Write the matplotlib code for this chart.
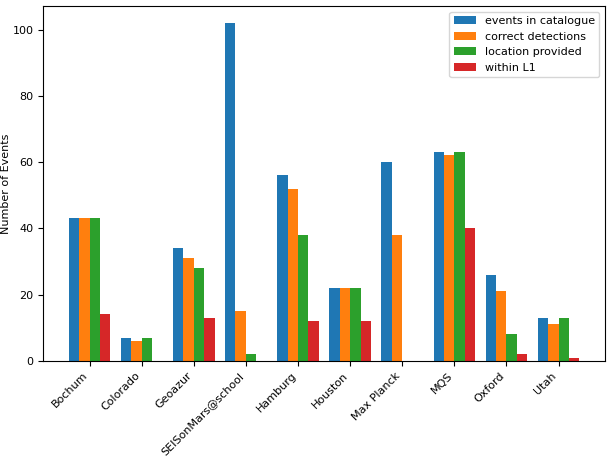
import numpy as np
import matplotlib
matplotlib.use("Agg")
import matplotlib.pyplot as plt

teams = ["Bochum", "Colorado", "Geoazur", "SEISonMars@school", "Hamburg",
         "Houston", "Max Planck", "MQS", "Oxford", "Utah"]
events_in_catalogue = [43, 7, 34, 102, 56, 22, 60, 63, 26, 13]
correct_detections = [43, 6, 31, 15, 52, 22, 38, 62, 21, 11]
location_provided = [43, 7, 28, 2, 38, 22, 0, 63, 8, 13]
within_l1 = [14, 0, 13, 0, 12, 12, 0, 40, 2, 1]

series = [
    ("events in catalogue", events_in_catalogue),
    ("correct detections", correct_detections),
    ("location provided", location_provided),
    ("within L1", within_l1),
]

plt.rcParams["font.size"] = 8

fig, ax = plt.subplots(figsize=(6.08, 4.62), dpi=100)
fig.subplots_adjust(left=0.071, right=0.995, top=0.987, bottom=0.219)

x = np.arange(len(teams))
width = 0.2
for i, (label, vals) in enumerate(series):
    ax.bar(x + (i - 1.5) * width, vals, width, label=label)

ax.set_ylabel("Number of Events")
ax.yaxis.set_label_coords(-0.057, 0.5)
ax.set_xticks(x)
ax.set_xticklabels(teams, rotation=45, ha="right")
ax.legend(loc="upper right")

fig.savefig("out.png", dpi=100)
